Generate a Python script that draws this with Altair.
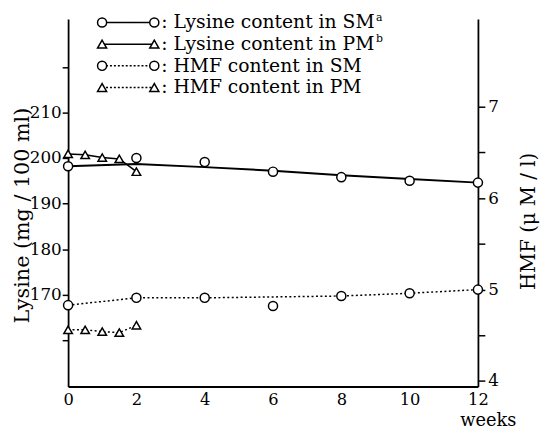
import altair as alt
import pandas as pd

# ---- data ----
weeks = [0, 2, 4, 6, 8, 10, 12]
lys_sm_points = [198.2, 200.0, 199.1, 197.0, 195.8, 195.0, 194.6]
lys_sm_line = [198.2, 198.7, 198.0, 197.2, 196.2, 195.4, 194.6]
hmf_sm_points = [4.83, 4.91, 4.91, 4.82, 4.93, 4.96, 5.00]
hmf_sm_line = [4.83, 4.91, 4.91, 4.92, 4.93, 4.96, 5.00]

weeks_pm = [0, 0.5, 1, 1.5, 2]
lys_pm = [200.9, 200.7, 200.1, 199.8, 197.0]
hmf_pm = [4.56, 4.56, 4.54, 4.53, 4.61]

x_ticks = [0, 2, 4, 6, 8, 10, 12]
lys_ticks = [160, 170, 180, 190, 200, 210, 220]
hmf_ticks = [4, 4.5, 5, 5.5, 6, 6.5, 7]

legend_labels = [": Lysine content in SM", ": Lysine content in PM",
                 ": HMF content in SM", ": HMF content in PM"]
legend_sup = ["a", "b", "", ""]
legend_shapes = ["circle", "triangle-up", "circle", "triangle-up"]
legend_dash = ["solid", "solid", "dotted", "dotted"]

FONT = "DejaVu Serif"

sm = pd.DataFrame({"week": weeks, "lys": lys_sm_points, "lys_fit": lys_sm_line,
                   "hmf": hmf_sm_points, "hmf_fit": hmf_sm_line})
pm = pd.DataFrame({"week": weeks_pm, "lys": lys_pm, "hmf": hmf_pm})
leg = pd.DataFrame({"label": legend_labels, "sup": legend_sup, "shape": legend_shapes,
                    "dash": legend_dash, "row": list(range(len(legend_labels)))})

W, H = 416, 373

x_enc = alt.X("week:Q", scale=alt.Scale(domain=[0, 12], nice=False, zero=False),
              axis=alt.Axis(values=x_ticks, ticks=False, labelPadding=5, labelFlush=False,
                            labelFontSize=16.5,
                            title="weeks", titleX=W + 10, titleY=40, titleAlign="center",
                            titleBaseline="alphabetic", titleFontSize=18))

lscale = alt.Scale(domain=[149.85, 230.5], nice=False, zero=False)
laxis = alt.Axis(values=lys_ticks, tickSize=6, labelPadding=1,
                 labelExpr="datum.value >= 170 && datum.value <= 210 ? datum.label : ''",
                 title="Lysine (mg / 100 ml)", titleAngle=270, titleX=-40, titleY=199,
                 titleAlign="center", titleBaseline="alphabetic", titleFontSize=21)
rscale = alt.Scale(domain=[3.94, 7.96], nice=False, zero=False)
raxis = alt.Axis(orient="right", values=hmf_ticks, tickSize=7, labelPadding=3,
                 labelExpr="datum.value % 1 == 0 ? format(datum.value, 'd') : ''",
                 title="HMF (\u03bc M / l)", titleAngle=270, titleX=57, titleY=205,
                 titleAlign="center", titleBaseline="alphabetic", titleFontSize=20)


def ly(f):
    return alt.Y(f + ":Q", scale=lscale, axis=laxis)


def ry(f):
    return alt.Y(f + ":Q", scale=rscale, axis=raxis)


pt = dict(size=85, filled=True, color="white", stroke="black", strokeWidth=1.5, opacity=1)
tri = dict(size=75, filled=True, color="white", stroke="black", strokeWidth=1.5, opacity=1)

left = alt.layer(
    alt.Chart(sm).mark_line(color="black", strokeWidth=2).encode(x=x_enc, y=ly("lys_fit")),
    alt.Chart(pm).mark_line(color="black", strokeWidth=1.5).encode(x=x_enc, y=ly("lys")),
    alt.Chart(sm).mark_point(shape="circle", **pt).encode(x=x_enc, y=ly("lys")),
    alt.Chart(pm).mark_point(shape="triangle-up", **tri).encode(x=x_enc, y=ly("lys")),
)

right = alt.layer(
    alt.Chart(sm).mark_line(color="black", strokeWidth=1.5, strokeDash=[2, 2.5]).encode(x=x_enc, y=ry("hmf_fit")),
    alt.Chart(pm).mark_line(color="black", strokeWidth=1.5, strokeDash=[2, 2.5]).encode(x=x_enc, y=ry("hmf")),
    alt.Chart(sm).mark_point(shape="circle", **pt).encode(x=x_enc, y=ry("hmf")),
    alt.Chart(pm).mark_point(shape="triangle-up", **tri).encode(x=x_enc, y=ry("hmf")),
)

leg_base = alt.Chart(leg).transform_calculate(ly="datum.row * 22 + 3.5")
leg_y = alt.Y("ly:Q", scale=None, axis=None)
shape_enc = alt.Shape("shape:N", scale=alt.Scale(domain=["circle", "triangle-up"],
                                                   range=["circle", "triangle-up"]), legend=None)
legend = alt.layer(
    leg_base.mark_rule(color="black", strokeWidth=1.5).encode(
        x=alt.value(34.5), x2=alt.value(87.5), y=leg_y,
        strokeDash=alt.StrokeDash("dash:N", scale=alt.Scale(domain=["solid", "dotted"],
                                                             range=[[1, 0], [2, 2]]), legend=None)),
    leg_base.mark_point(**pt).encode(x=alt.value(34.5), y=leg_y, shape=shape_enc),
    leg_base.mark_point(**pt).encode(x=alt.value(87.5), y=leg_y, shape=shape_enc),
    leg_base.mark_text(align="left", baseline="middle", font=FONT, fontSize=19, color="black").encode(
        x=alt.value(94.5), y=leg_y, text="label:N"),
    leg_base.mark_text(align="left", baseline="middle", font=FONT, fontSize=11, color="black", dy=-5).encode(
        x=alt.value(312.5), y=leg_y, text="sup:N"),
)

chart = alt.layer(left, right, legend).resolve_scale(
    y="independent", shape="independent", strokeDash="independent"
).properties(
    width=W, height=H,
    autosize=alt.AutoSizeParams(type="none"),
    padding={"left": 61, "top": 8, "right": 540 - 61 - W, "bottom": 426 - 8 - H},
).configure_view(stroke=None).configure_axis(
    grid=False, domainColor="black", domainWidth=1.8, tickColor="black", tickWidth=1.5,
    labelColor="black", titleColor="black", labelFont=FONT, titleFont=FONT,
    labelFontSize=17, titleFontWeight="normal",
)

chart.save("out.html", embed_options={"renderer": "svg", "actions": False})
